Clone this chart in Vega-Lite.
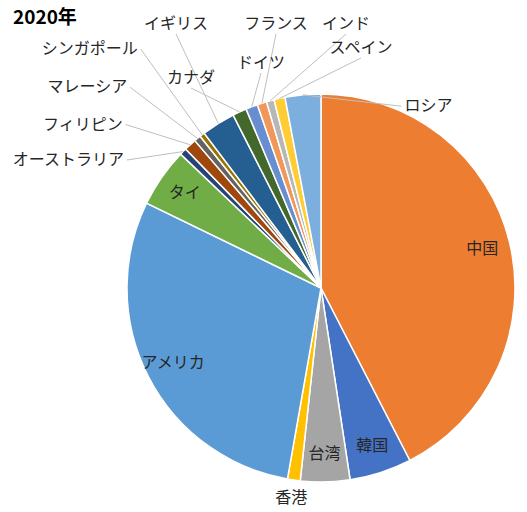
{
  "$schema": "https://vega.github.io/schema/vega-lite/v6.json",
  "width": 388,
  "height": 388,
  "autosize": {"type": "none"},
  "padding": {"left": 127, "top": 94, "right": 12, "bottom": 30},
  "background": "white",
  "config": {"view": {"stroke": null}},
  "title": {"text": "2020年", "anchor": "start", "frame": "group", "dx": -114, "offset": 0, "dy": 27, "baseline": "alphabetic", "font": "Noto Sans CJK JP", "fontSize": 19, "fontWeight": "bold", "color": "#000000"},
  "data": {"values": [
    {"country": "中国", "share": 42.44},
    {"country": "韓国", "share": 5.17},
    {"country": "台湾", "share": 4.11},
    {"country": "香港", "share": 1.06},
    {"country": "アメリカ", "share": 29.44},
    {"country": "タイ", "share": 4.92},
    {"country": "オーストラリア", "share": 0.58},
    {"country": "フィリピン", "share": 1.03},
    {"country": "マレーシア", "share": 0.56},
    {"country": "シンガポール", "share": 0.42},
    {"country": "イギリス", "share": 2.81},
    {"country": "カナダ", "share": 1.17},
    {"country": "ドイツ", "share": 0.99},
    {"country": "フランス", "share": 0.79},
    {"country": "インド", "share": 0.64},
    {"country": "スペイン", "share": 0.92},
    {"country": "ロシア", "share": 2.97}
  ]},
  "transform": [
    {"window": [{"op": "row_number", "as": "idx"}, {"op": "sum", "field": "share", "as": "cum"}], "frame": [null, 0]},
    {"joinaggregate": [{"op": "sum", "field": "share", "as": "total"}]},
    {"calculate": "(datum.cum - datum.share / 2) / datum.total * 360", "as": "mid"},
    {"calculate": "datum.share >= 4 ? 'in' : (datum.mid < 300 ? 'bottom' : (datum.mid < 325 ? 'left' : (datum.mid < 350 ? 'top' : 'right')))", "as": "grp"},
    {"window": [{"op": "row_number", "as": "k"}], "groupby": ["grp"], "sort": [{"field": "idx"}]},
    {"calculate": "floor((datum.k - 1) / 2)", "as": "p"},
    {"calculate": "datum.grp == 'left' ? 303 + 6.5 * (datum.k - 1) : (datum.grp == 'right' ? datum.mid + 30 : datum.mid)", "as": "la"},
    {"calculate": "datum.grp == 'in' ? 166 : (datum.grp == 'bottom' ? 212 : (datum.grp == 'left' ? 235 + 22 * (datum.k - 1) : 200))", "as": "lr"},
    {"calculate": "datum.grp == 'top' ? -145 + 85 * datum.p + ((datum.k - 1) % 2 == 0 ? 0 : 15) : datum.lr * sin(datum.la * PI / 180)", "as": "lx"},
    {"calculate": "datum.grp == 'top' ? (((datum.k - 1) % 2) == (datum.p % 2) ? 264 : 210 + 15 * datum.p) : datum.lr * cos(datum.la * PI / 180)", "as": "ly"},
    {"calculate": "194 * sin(datum.mid * PI / 180)", "as": "sx"},
    {"calculate": "194 * cos(datum.mid * PI / 180)", "as": "sy"},
    {"calculate": "datum.grp == 'left' ? datum.lx + 3 : (datum.grp == 'right' ? datum.lx - 3 : datum.lx)", "as": "ex"},
    {"calculate": "datum.grp == 'top' ? datum.ly - 10 : datum.ly", "as": "ey"}
  ],
  "layer": [
    {
      "mark": {"type": "arc", "stroke": "#ffffff", "strokeWidth": 1.5},
      "encoding": {
        "theta": {"field": "share", "type": "quantitative", "stack": true},
        "order": {"field": "idx", "type": "quantitative"},
        "color": {"field": "country", "type": "nominal", "legend": null,
          "scale": {
            "domain": ["中国", "韓国", "台湾", "香港", "アメリカ", "タイ", "オーストラリア", "フィリピン", "マレーシア", "シンガポール", "イギリス", "カナダ", "ドイツ", "フランス", "インド", "スペイン", "ロシア"],
            "range": ["#ED7D31", "#4472C4", "#A5A5A5", "#FFC000", "#5B9BD5", "#70AD47", "#264478", "#9E480E", "#636363", "#997300", "#255E91", "#43682B", "#698ED0", "#F1975A", "#B7B7B7", "#FFCD33", "#7CAFDD"]
          }
        }
      }
    },
    {
      "transform": [{"filter": "datum.grp == 'left' || datum.grp == 'top' || datum.grp == 'right'"}],
      "mark": {"type": "rule", "color": "#BFBFBF", "strokeWidth": 1},
      "encoding": {
        "x": {"field": "sx", "type": "quantitative", "axis": null, "scale": {"domain": [-194, 194], "nice": false, "zero": false}},
        "y": {"field": "sy", "type": "quantitative", "axis": null, "scale": {"domain": [-194, 194], "nice": false, "zero": false}},
        "x2": {"field": "ex"},
        "y2": {"field": "ey"}
      }
    },
    {
      "transform": [{"filter": "datum.grp == 'in' || datum.grp == 'bottom' || datum.grp == 'top'"}],
      "mark": {"type": "text", "font": "Noto Sans CJK JP", "fontSize": 16, "color": "#262626", "align": "center", "baseline": "middle"},
      "encoding": {
        "x": {"field": "lx", "type": "quantitative", "axis": null, "scale": {"domain": [-194, 194], "nice": false, "zero": false}},
        "y": {"field": "ly", "type": "quantitative", "axis": null, "scale": {"domain": [-194, 194], "nice": false, "zero": false}},
        "text": {"field": "country"}
      }
    },
    {
      "transform": [{"filter": "datum.grp == 'left'"}],
      "mark": {"type": "text", "font": "Noto Sans CJK JP", "fontSize": 16, "color": "#262626", "align": "right", "baseline": "middle"},
      "encoding": {
        "x": {"field": "lx", "type": "quantitative", "axis": null, "scale": {"domain": [-194, 194], "nice": false, "zero": false}},
        "y": {"field": "ly", "type": "quantitative", "axis": null, "scale": {"domain": [-194, 194], "nice": false, "zero": false}},
        "text": {"field": "country"}
      }
    },
    {
      "transform": [{"filter": "datum.grp == 'right'"}],
      "mark": {"type": "text", "font": "Noto Sans CJK JP", "fontSize": 16, "color": "#262626", "align": "left", "baseline": "middle"},
      "encoding": {
        "x": {"field": "lx", "type": "quantitative", "axis": null, "scale": {"domain": [-194, 194], "nice": false, "zero": false}},
        "y": {"field": "ly", "type": "quantitative", "axis": null, "scale": {"domain": [-194, 194], "nice": false, "zero": false}},
        "text": {"field": "country"}
      }
    }
  ]
}
